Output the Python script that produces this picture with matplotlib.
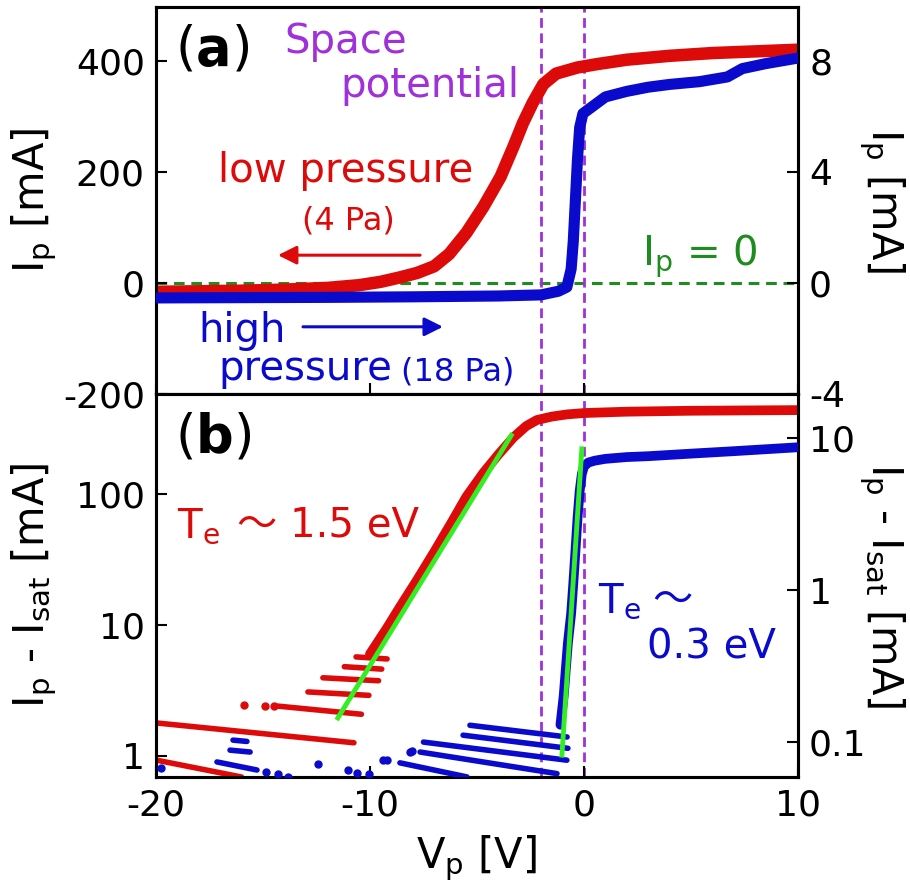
import numpy as np
import matplotlib
matplotlib.use('Agg')
import matplotlib.pyplot as plt

plt.rcParams['font.family'] = ['DejaVu Sans', 'Noto Sans CJK JP']
plt.rcParams['mathtext.fontset'] = 'dejavusans'
plt.rcParams['axes.unicode_minus'] = False

# ---- panel (a) data ----
# low pressure (4 Pa), left axis [mA]
red_a_v = [-20, -18, -16, -14, -12, -10.5, -9.5, -8.6, -7.8, -7.0, -6.3, -5.5, -4.7, -3.9,
           -3.3, -2.85, -2.4, -1.9, -1.3, -0.3, 0.6, 2, 4, 6, 8, 10]
red_a_i = [-16, -15, -14, -12, -9, -4, 2, 10, 18, 30, 52, 90, 137, 191,
           245, 288, 324, 358, 377, 388, 394, 402, 409, 414, 417, 420]
# high pressure (18 Pa), right axis [mA]
blue_a_v = [-20, -16, -12, -8, -4, -2, -1.2, -0.8, -0.6, -0.5, -0.4, -0.3, -0.2, -0.05,
            0.3, 1.0, 2, 3, 4, 5.4, 6.7, 7.4, 8.5, 10]
blue_a_i = [-0.54, -0.53, -0.52, -0.5, -0.47, -0.43, -0.3, -0.15, 0.5, 1.5, 3, 4.5, 5.6, 6.1,
            6.3, 6.7, 6.9, 7.05, 7.15, 7.25, 7.42, 7.72, 7.9, 8.1]

# ---- panel (b) data ----
# low pressure Ip - Isat, left axis [mA]
red_b_v = [-10.0, -9.2, -8.6, -7.8, -7.0, -6.2, -5.5, -4.7, -4.0, -3.3, -2.7, -2.2,
           -1.5, -0.8, 0, 2, 5, 10]
red_b_i = [6, 9.5, 13.7, 22, 36, 60, 95, 145, 200, 270, 330, 367,
           390, 405, 415, 425, 432, 437]
# quantized low-signal bands (start v, start i, end v, end i)
red_seg_v0 = [-19.9, -20.0, -14.3, -12.9, -12.2, -11.2, -10.65]
red_seg_i0 = [1.78, 0.93, 2.40, 3.08, 3.95, 4.8, 5.7]
red_seg_v1 = [-10.75, -16.0, -10.4, -10.05, -9.6, -9.45, -9.2]
red_seg_i1 = [1.26, 0.69, 2.08, 2.9, 3.75, 4.6, 5.5]
red_dot_v = [-15.9, -14.9, -14.5]
red_dot_i = [2.45, 2.42, 2.41]

# high pressure Ip - Isat, right axis [mA]
blue_b_v = [-1.1, -0.95, -0.85, -0.75, -0.6, -0.5, -0.4, -0.3, -0.2, -0.1, 0.0, 0.2,
            0.5, 1.0, 2, 3, 5, 7, 10]
blue_b_i = [0.13, 0.2, 0.3, 0.45, 0.7, 1.1, 1.8, 3.0, 4.5, 5.8, 6.5, 6.9,
            7.1, 7.3, 7.5, 7.6, 7.9, 8.2, 8.7]
blue_seg_v0 = [-5.33, -5.65, -7.5, -7.66, -8.6, -16.4, -16.54, -17.15]
blue_seg_i0 = [0.129, 0.111, 0.100, 0.086, 0.073, 0.103, 0.0885, 0.074]
blue_seg_v1 = [-0.79, -0.75, -0.8, -1.26, -5.47, -15.75, -15.6, -15.28]
blue_seg_i1 = [0.108, 0.091, 0.076, 0.062, 0.059, 0.101, 0.086, 0.0655]
blue_dot_v = [-19.77, -14.86, -14.3, -13.83, -12.43, -11.03, -10.6, -10.05, -9.39, -9.2, -8.13, -8.04]
blue_dot_i = [0.0675, 0.0636, 0.0617, 0.059, 0.0716, 0.0655, 0.063, 0.0617, 0.076, 0.076, 0.086, 0.087]

# fits
fit_red_v = [-11.5, -3.4]
fit_red_i = [1.95, 280]
fit_blue_v = [-1.03, -0.1]
fit_blue_i = [0.082, 8.5]

space_pot = [-2.0, 0.0]

RED = '#dd0a0a'
BLUE = '#0a0acc'
PURPLE = '#a030d8'
DGREEN = '#1e8c1e'
LIME = '#33ee22'

fig = plt.figure(figsize=(9.1, 8.92), dpi=100)
ax1 = fig.add_axes([0.1714, 0.5583, 0.7055, 0.4339])
ax1r = ax1.twinx()
ax2 = fig.add_axes([0.1714, 0.1289, 0.7055, 0.4294])
ax2r = ax2.twinx()

# ---- (a) ----
ax1.axhline(0, color=DGREEN, ls=(0, (3.5, 2.2)), lw=2.2, zorder=1)
for v in space_pot:
    ax1.axvline(v, color=PURPLE, ls=(0, (3.5, 2)), lw=2, zorder=1)
ax1.plot(red_a_v, red_a_i, color=RED, lw=9, solid_capstyle='round', zorder=3)
ax1r.plot(blue_a_v, blue_a_i, color=BLUE, lw=8, solid_capstyle='round', zorder=3)

ax1.set_xlim(-20, 10)
ax1.set_ylim(-200, 497)
ax1r.set_ylim(-4, 9.94)
ax1.set_yticks([-200, 0, 200, 400])
ax1r.set_yticks([-4, 0, 4, 8])
ax1.set_xticks([-20, -10, 0, 10])
ax1.tick_params(axis='x', labelbottom=False)

ax1.text(-19.1, 420, '(' + r'$\mathbf{a}$' + ')', fontsize=38, va='center', ha='left')
ax1.text(-14.02, 414, 'Space', color=PURPLE, fontsize=29, va='baseline')
ax1.text(-11.36, 335, 'potential', color=PURPLE, fontsize=29, va='baseline')
ax1.text(-17.1, 182, 'low pressure', color=RED, fontsize=29, va='baseline')
ax1.text(-13.18, 96, '(4 Pa)', color=RED, fontsize=23, va='baseline')
ax1.annotate('', xy=(-14.3, 50), xytext=(-7.66, 50),
             arrowprops=dict(arrowstyle='-|>', color=RED, lw=2.2, mutation_scale=28,
                             shrinkA=0, shrinkB=0))
ax1.text(-18.04, -106, 'high', color=BLUE, fontsize=29, va='baseline')
ax1.annotate('', xy=(-6.59, -79), xytext=(-13.13, -79),
             arrowprops=dict(arrowstyle='-|>', color=BLUE, lw=2.2, mutation_scale=28,
                             shrinkA=0, shrinkB=0))
ax1.text(-17.1, -175, 'pressure', color=BLUE, fontsize=29, va='baseline')
ax1.text(-8.55, -175, '(18 Pa)', color=BLUE, fontsize=23, va='baseline')
ax1.text(2.71, 32, r'I$_\mathregular{p}$ = 0', color=DGREEN, fontsize=29, va='baseline')

ax1.set_ylabel(r'I$_\mathregular{p}$ [mA]', fontsize=30, va='center')
ax1.yaxis.set_label_coords(-0.19, 0.5)
ax1r.set_ylabel(r'I$_\mathregular{p}$ [mA]', fontsize=30, rotation=-90, va='center')
ax1r.yaxis.set_label_coords(1.13, 0.5)

# ---- (b) ----
for v in space_pot:
    ax2.axvline(v, color=PURPLE, ls=(0, (3.5, 2)), lw=2, zorder=1)
ax2.set_yscale('log')
ax2r.set_yscale('log')
ax2.plot(red_b_v, red_b_i, color=RED, lw=7, solid_capstyle='round', zorder=3)
for k in range(len(red_seg_v0)):
    ax2.plot([red_seg_v0[k], red_seg_v1[k]], [red_seg_i0[k], red_seg_i1[k]],
             color=RED, lw=4, solid_capstyle='round', zorder=3)
ax2.plot(red_dot_v, red_dot_i, 'o', color=RED, ms=5, zorder=3)
ax2.plot(fit_red_v, fit_red_i, color=LIME, lw=3.5, zorder=4)

ax2r.plot(blue_b_v, blue_b_i, color=BLUE, lw=7, solid_capstyle='round', zorder=3)
for k in range(len(blue_seg_v0)):
    ax2r.plot([blue_seg_v0[k], blue_seg_v1[k]], [blue_seg_i0[k], blue_seg_i1[k]],
              color=BLUE, lw=4, solid_capstyle='round', zorder=3)
ax2r.plot(blue_dot_v, blue_dot_i, 'o', color=BLUE, ms=5, zorder=3)
ax2r.plot(fit_blue_v, fit_blue_i, color=LIME, lw=3.5, zorder=4)

ax2.set_xlim(-20, 10)
ax2.set_ylim(0.69, 580)
ax2r.set_ylim(0.0589, 19.5)
ax2.set_yticks([1, 10, 100])
ax2.set_yticklabels(['1', '10', '100'])
ax2r.set_yticks([0.1, 1, 10])
ax2r.set_yticklabels(['0.1', '1', '10'])
ax2.minorticks_off()
ax2r.minorticks_off()
ax2.set_xticks([-20, -10, 0, 10])

ax2.text(-19.1, 272, '(' + r'$\mathbf{b}$' + ')', fontsize=38, va='center', ha='left')
ax2.text(-19.02, 47, r'T$_\mathregular{e}$', color=RED, fontsize=29, va='baseline')
ax2.text(-16.2, 47, '～ 1.5 eV', color=RED, fontsize=29, va='baseline')
ax2r.text(0.65, 0.717, r'T$_\mathregular{e}$', color=BLUE, fontsize=29, va='baseline')
ax2r.text(3.2, 0.717, '～', color=BLUE, fontsize=29, va='baseline')
ax2r.text(2.94, 0.357, '0.3 eV', color=BLUE, fontsize=29, va='baseline')

ax2.set_ylabel(r'I$_\mathregular{p}$ - I$_\mathregular{sat}$ [mA]', fontsize=30, va='center')
ax2.yaxis.set_label_coords(-0.19, 0.5)
ax2r.set_ylabel(r'I$_\mathregular{p}$ - I$_\mathregular{sat}$ [mA]', fontsize=30,
                rotation=-90, va='center')
ax2r.yaxis.set_label_coords(1.13, 0.5)
ax2.set_xlabel(r'V$_\mathregular{p}$ [V]', fontsize=30, labelpad=8)

for a in (ax1, ax1r, ax2, ax2r):
    a.tick_params(direction='in', length=8, width=1.5, labelsize=26, pad=8)
    for s in a.spines.values():
        s.set_linewidth(2.2)

fig.savefig('out.png', dpi=100)
